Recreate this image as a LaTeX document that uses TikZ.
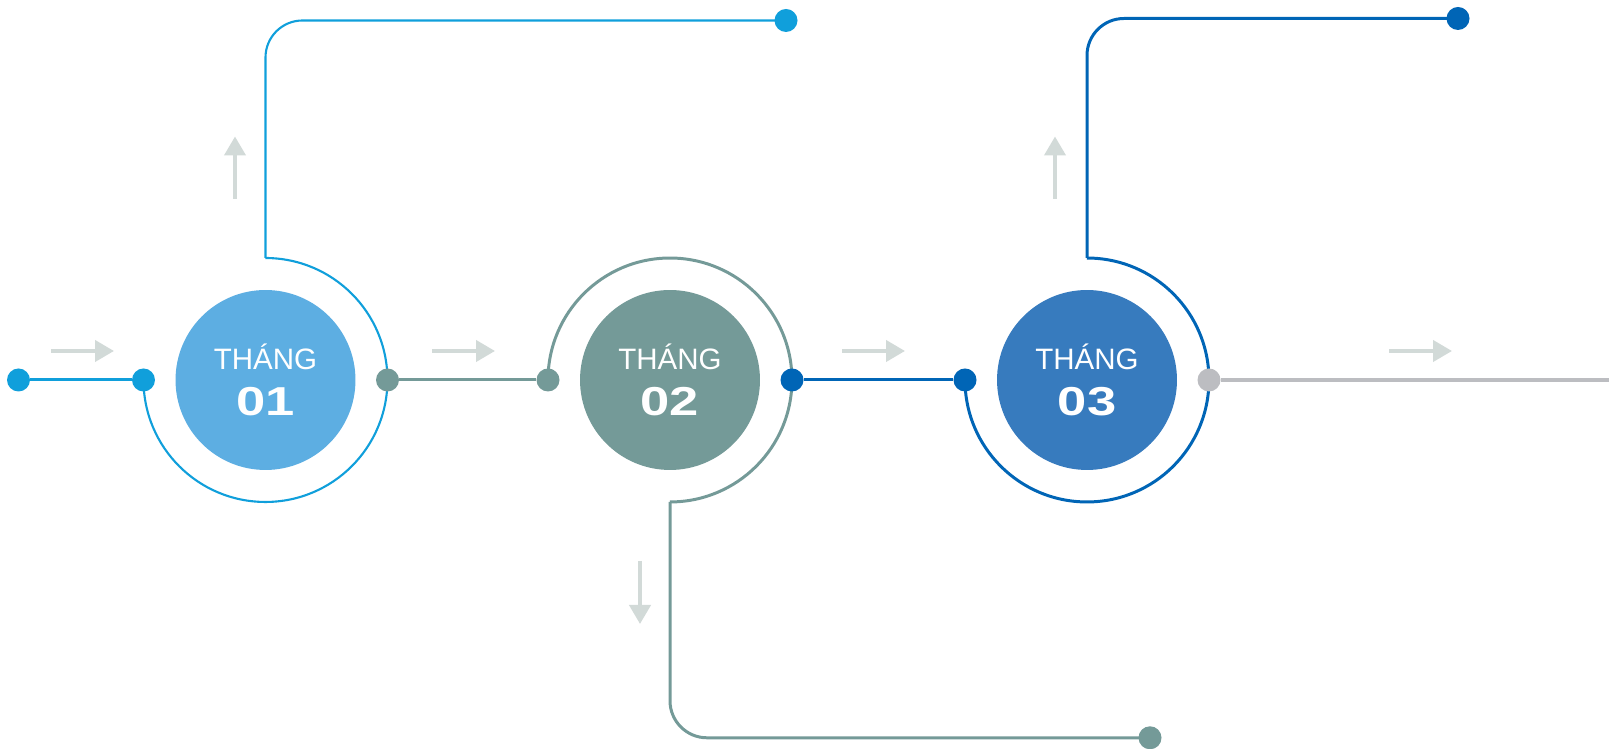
\documentclass[tikz,border=0pt]{standalone}
\usepackage{fontspec}
\setmainfont{Liberation Sans}
\newfontfamily\numfont[FakeStretch=1.3]{Liberation Sans}
\usepackage{tikz}
\usetikzlibrary{arrows.meta,shapes,positioning,backgrounds}
\definecolor{mcyan}{RGB}{16,159,219}
\definecolor{mcyanfill}{RGB}{93,174,226}
\definecolor{mteal}{RGB}{116,154,152}
\definecolor{mnavy}{RGB}{0,101,182}
\definecolor{mnavyfill}{RGB}{55,123,190}
\definecolor{mgrey}{RGB}{188,189,193}
\definecolor{mhint}{RGB}{210,218,216}
\tikzstyle{month} = [circle, minimum size=3.6cm, inner sep=0pt, text=white, align=center, font=\fontsize{16.8}{26.6}\selectfont]
\tikzstyle{dot} = [circle, minimum size=0.46cm, inner sep=0pt]
\tikzstyle{hint} = [line width=2.3pt, color=mhint, -{Triangle[length=0.38cm,width=0.42cm]}]
\tikzstyle{link} = [line width=1.7pt]
\newcommand{\monthnum}[1]{{\numfont\bfseries\fontsize{23}{26.6}\selectfont #1}}

\begin{document}
\begin{tikzpicture}[x=0.02cm, y=0.02cm]
\useasboundingbox (0,0) rectangle (1609,749);

% Months
\node[month, fill=mcyanfill] (m1) at (265.5,369) {THÁNG\\\monthnum{01}};
\node[month, fill=mteal] (m2) at (670,369) {THÁNG\\\monthnum{02}};
\node[month, fill=mnavyfill] (m3) at (1087,369) {THÁNG\\\monthnum{03}};

% Dots on the main line
\node[dot, fill=mcyan] (start) at (18.5,369) {};
\node[dot, fill=mcyan] (d1l) at (143.5,369) {};
\node[dot, fill=mteal] (d1r) at (387.5,369) {};
\node[dot, fill=mteal] (d2l) at (548,369) {};
\node[dot, fill=mnavy] (d2r) at (792,369) {};
\node[dot, fill=mnavy] (d3l) at (965,369) {};
\node[dot, fill=mgrey] (d3r) at (1209,369) {};
\coordinate (end) at (1609,369);

% Branch ends
\node[dot, fill=mcyan] (top1) at (786,728.5) {};
\node[dot, fill=mteal] (bot2) at (1150,11.2) {};
\node[dot, fill=mnavy] (top3) at (1458,730.5) {};
\coordinate (r1) at (265.5,491);
\coordinate (r2) at (670,247);
\coordinate (r3) at (1087,491);

\begin{scope}[on background layer]
% Main line
\draw[link, mcyan] (start) -- (d1l);
\draw[link, mteal] (d1r) -- (d2l);
\draw[link, mnavy] (d2r) -- (d3l);
\draw[line width=2.3pt, mgrey] (d3r) -- (end);

% Rings
\draw[line width=1.2pt, mcyan] (d1l.center) arc[start angle=180, end angle=450, radius=2.44cm];
\draw[link, mteal] (d2l.center) arc[start angle=180, end angle=-90, radius=2.44cm];
\draw[link, mnavy] (d3l.center) arc[start angle=180, end angle=450, radius=2.44cm];

% Branches
\draw[line width=1.2pt, mcyan, rounded corners=0.74cm] (r1) |- (top1.center);
\draw[link, mteal, rounded corners=0.74cm] (r2) |- (bot2.center);
\draw[link, mnavy, rounded corners=0.74cm] (r3) |- (top3.center);
\end{scope}

% Direction hints
\foreach \x in {51,432,842,1389}
  \draw[hint] (\x,398) -- ++(63,0);
\draw[hint] (235,550) -- (235,612.5);
\draw[hint] (1055,550) -- (1055,612.5);
\draw[hint] (640,188) -- (640,125);
\end{tikzpicture}
\end{document}
